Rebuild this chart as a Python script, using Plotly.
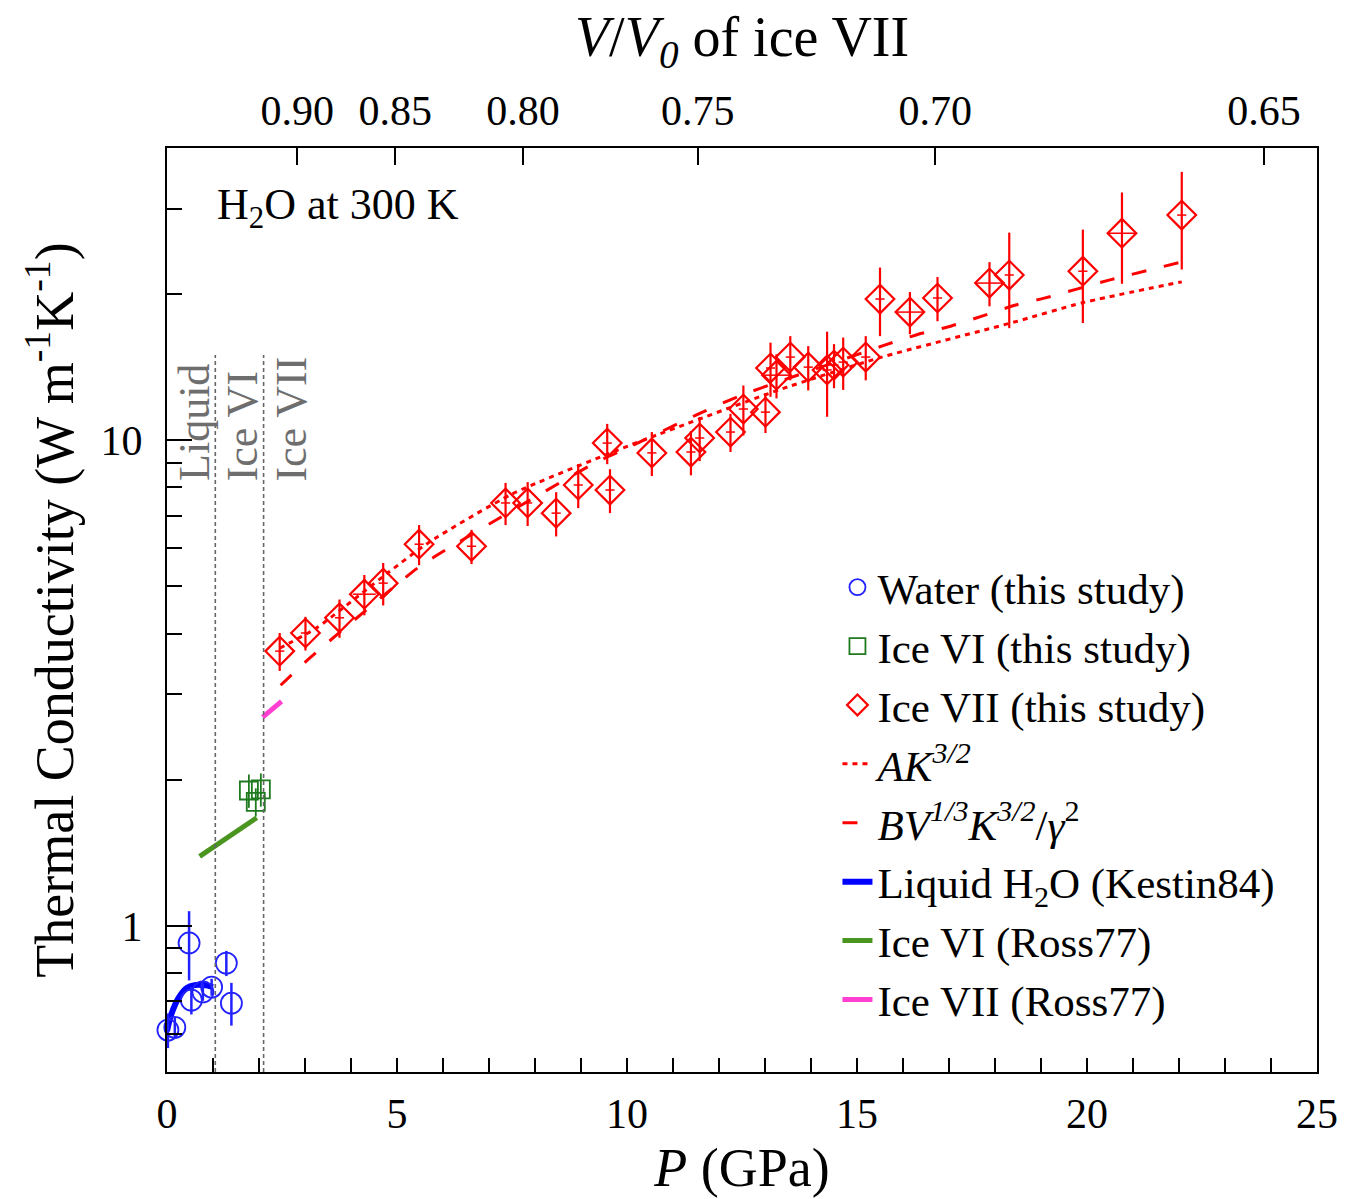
import plotly.graph_objects as go

# ---- Water (this study) ----
water_p = [0.02, 0.17, 0.48, 0.53, 0.78, 0.97, 1.29, 1.40]
water_k = [0.610, 0.618, 0.922, 0.703, 0.731, 0.748, 0.838, 0.693]
water_err = [0.05, 0.03, 0.15, 0.046, 0.03, 0.03, 0.05, 0.07]

# ---- Ice VI (this study) ----
ice6_p = [1.78, 1.93, 2.04]
ice6_k = [1.90, 1.80, 1.91]
ice6_err = [0.15, 0.12, 0.15]

# ---- Ice VII (this study) ----
ice7_p = [2.45, 3.01, 3.75, 4.29, 4.70, 5.48, 6.62, 7.36, 7.84, 8.46,
          8.94, 9.57, 9.63, 10.54, 11.39, 11.58, 12.25, 12.53, 13.01, 13.12,
          13.25, 13.55, 13.94, 14.35, 14.50, 14.70, 15.19, 15.50, 16.15, 16.75,
          17.88, 18.31, 19.91, 20.76, 22.06]
ice7_k = [3.68, 4.01, 4.31, 4.82, 5.08, 6.11, 6.05, 7.43, 7.43, 7.08,
          8.09, 9.87, 7.90, 9.42, 9.46, 10.11, 10.40, 11.60, 11.43, 14.09,
          13.62, 14.84, 14.15, 13.96, 14.29, 14.49, 14.84, 19.54, 18.37, 19.64,
          21.08, 21.90, 22.30, 26.70, 29.10]
ice7_err = [0.33, 0.32, 0.39, 0.46, 0.51, 0.58, 0.49, 0.74, 0.77, 0.74,
            0.84, 0.94, 0.82, 0.98, 0.99, 1.05, 0.94, 1.37, 1.08, 1.80,
            1.42, 1.55, 1.48, 2.78, 1.49, 1.79, 1.55, 3.15, 1.83, 2.05,
            2.20, 4.88, 4.86, 5.69, 6.62]
ice7_perr = [0.10, 0.10, 0.10, 0.25, 0.10, 0.10, 0.10, 0.10, 0.10, 0.10,
             0.10, 0.10, 0.10, 0.10, 0.10, 0.10, 0.10, 0.10, 0.10, 0.10,
             0.28, 0.10, 0.10, 0.10, 0.10, 0.10, 0.10, 0.10, 0.30, 0.10,
             0.30, 0.10, 0.10, 0.30, 0.10]

# ---- Model curves for ice VII ----
ak_p = [2.45, 3.27, 4.83, 5.70, 7.50, 9.80, 10.70, 13.30, 15.50, 18.40, 19.90, 22.06]
ak_k = [3.73, 4.12, 5.36, 6.17, 7.75, 9.55, 10.30, 12.70, 14.80, 17.50, 19.20, 21.20]

bv_p = [2.47, 3.10, 5.45, 6.05, 9.30, 10.00, 11.50, 12.05, 12.70, 15.60,
        16.30, 17.05, 17.70, 18.45, 19.05, 20.50, 22.06]
bv_k = [3.13, 3.56, 5.46, 5.94, 8.98, 9.64, 11.27, 11.90, 12.60, 15.70,
        16.50, 17.20, 18.00, 19.00, 19.60, 21.40, 23.30]

# ---- Literature data ----
kestin_p = [0.00, 0.10, 0.25, 0.43, 0.60, 0.80, 1.00]
kestin_k = [0.607, 0.660, 0.710, 0.745, 0.755, 0.755, 0.748]

ross6_p = [0.71, 1.95]
ross6_k = [1.39, 1.67]

ross7_p = [2.08, 2.49]
ross7_k = [2.69, 2.90]

# ---- Phase boundaries and labels ----
boundary_p = [1.05, 2.10]
phase_names = ["Liquid", "Ice VI", "Ice VII"]
phase_label_p = [0.61, 1.65, 2.71]

# ---- Top axis: V/V0 of ice VII at the corresponding pressures ----
vv0_labels = ["0.90", "0.85", "0.80", "0.75", "0.70", "0.65"]
vv0_pressure = [2.83, 4.96, 7.74, 11.54, 16.70, 23.85]

# ---- Axis ticks ----
y_major = [1, 10]
y_minor = [0.6, 0.7, 0.8, 0.9, 2, 3, 4, 5, 6, 7, 8, 9, 20, 30, 40]

RED = "#ff0000"
BLUE = "#2222ff"
DKGREEN = "#1f7a1f"
GREEN = "#4a9420"
MAGENTA = "#ff3fd2"
FONT = "Liberation Serif"

fig = go.Figure()

fig.add_trace(go.Scatter(
    x=ak_p, y=ak_k, mode="lines", name="<i>AK</i><sup><i>3/2</i></sup>",
    line=dict(color=RED, width=3, dash="5px,5px", shape="spline", smoothing=0.6),
    legendrank=4))
fig.add_trace(go.Scatter(
    x=bv_p, y=bv_k, mode="lines",
    name="<i>BV</i><sup><i>1/3</i></sup><i>K</i><sup><i>3/2</i></sup>/<i>γ</i><sup>2</sup>",
    line=dict(color=RED, width=3, dash="15px,18px", shape="spline", smoothing=0.6),
    legendrank=5))
fig.add_trace(go.Scatter(
    x=kestin_p, y=kestin_k, mode="lines", name="Liquid H<sub>2</sub>O (Kestin84)",
    line=dict(color="#0000ff", width=6, shape="spline"), legendrank=6))
fig.add_trace(go.Scatter(
    x=ross6_p, y=ross6_k, mode="lines", name="Ice VI (Ross77)",
    line=dict(color=GREEN, width=5), legendrank=7))
fig.add_trace(go.Scatter(
    x=ross7_p, y=ross7_k, mode="lines", name="Ice VII (Ross77)",
    line=dict(color=MAGENTA, width=5), legendrank=8))

fig.add_trace(go.Scatter(
    x=water_p, y=water_k, mode="markers", name="Water (this study)",
    marker=dict(symbol="circle-open", size=21, color=BLUE, line=dict(width=1.8)),
    error_y=dict(type="data", array=water_err, color=BLUE, thickness=2.5, width=0),
    cliponaxis=False, legendrank=1))
fig.add_trace(go.Scatter(
    x=ice6_p, y=ice6_k, mode="markers", name="Ice VI (this study)",
    marker=dict(symbol="square-open", size=18, color=DKGREEN, line=dict(width=1.8)),
    error_y=dict(type="data", array=ice6_err, color=DKGREEN, thickness=1.8, width=0),
    legendrank=2))
fig.add_trace(go.Scatter(
    x=ice7_p, y=ice7_k, mode="markers", name="Ice VII (this study)",
    marker=dict(symbol="diamond-open", size=22, color=RED, line=dict(width=2.2)),
    error_y=dict(type="data", array=ice7_err, color=RED, thickness=2.2, width=0),
    error_x=dict(type="data", array=ice7_perr, color=RED, thickness=1.5, width=0),
    legendrank=3))

# Ice VII data again on the top (V/V0) axis so that axis is rendered;
# the two x axes share the same pressure range, so the points coincide.
fig.add_trace(go.Scatter(
    x=ice7_p, y=ice7_k, xaxis="x2", yaxis="y", mode="markers",
    marker=dict(size=1, color="rgba(0,0,0,0)"), showlegend=False,
    hoverinfo="skip"))

# phase boundaries
for pb in boundary_p:
    fig.add_shape(type="line", xref="x", yref="paper", x0=pb, x1=pb, y0=0, y1=0.776,
                  line=dict(color="#666666", width=1.6, dash="4px,3px"))

annotations = []
for name, px in zip(phase_names, phase_label_p):
    annotations.append(dict(
        x=px, xref="x", y=0.637, yref="paper", text=name, textangle=-90,
        showarrow=False, xanchor="center", yanchor="bottom",
        font=dict(family=FONT, size=44, color="#6e6e6e")))
annotations.append(dict(
    x=0.0416, xref="paper", y=0.936, yref="paper", text="H<sub>2</sub>O at 300 K",
    showarrow=False, xanchor="left", yanchor="middle",
    font=dict(family=FONT, size=44, color="black")))

axis_common = dict(showline=True, linecolor="black", linewidth=2, showgrid=False,
                   zeroline=False, ticks="inside", tickcolor="black")

fig.update_layout(
    width=1350, height=1199,
    margin=dict(l=167, r=28, t=148, b=127),
    plot_bgcolor="white", paper_bgcolor="white",
    font=dict(family=FONT, size=42, color="black"),
    showlegend=True,
    legend=dict(x=0.583, y=0.562, xanchor="left", yanchor="top",
                bgcolor="rgba(0,0,0,0)", font=dict(family=FONT, size=43),
                tracegroupgap=0),
    annotations=annotations,
    xaxis=dict(range=[0, 25], tick0=0, dtick=5, ticklen=14, tickwidth=1.8,
               mirror=True, minor=dict(dtick=1, ticks="inside", ticklen=14,
                                       tickwidth=1.5, tickcolor="black"),
               ticklabelstandoff=4,
               title=dict(text="<i>P</i> (GPa)", font=dict(size=54), standoff=12),
               **axis_common),
    xaxis2=dict(range=[0, 25], overlaying="x", side="top", anchor="y",
                tickmode="array", tickvals=vv0_pressure, ticktext=vv0_labels,
                ticks="inside", ticklen=17, tickwidth=1.8, tickcolor="black",
                showgrid=False, zeroline=False, showline=False,
                ticklabelstandoff=14,
                title=dict(text="<i>V</i>/<i>V</i><sub><i>0</i></sub> of ice VII",
                           font=dict(size=56), standoff=12)),
    yaxis=dict(type="log", range=[-0.30103, 1.60206], tickmode="array",
               tickvals=y_major, ticktext=[str(v) for v in y_major],
               ticklen=25, tickwidth=1.8, mirror=True,
               minor=dict(tickmode="array", tickvals=y_minor, ticks="inside",
                          ticklen=15, tickwidth=1.5, tickcolor="black"),
               ticklabelstandoff=14,
               title=dict(text="Thermal Conductivity (W m<sup>-1</sup>K<sup>-1</sup>)",
                          font=dict(size=54), standoff=10),
               **axis_common),
)

fig.write_html("out.html")
